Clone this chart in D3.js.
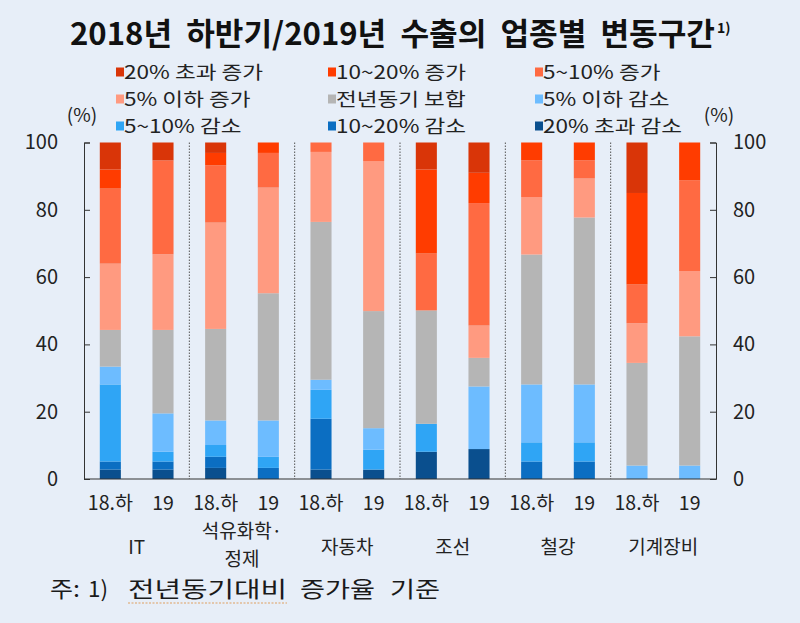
<!DOCTYPE html>
<html><head><meta charset="utf-8">
<script src="https://cdn.jsdelivr.net/npm/d3@7"></script>
<style>
html,body{margin:0;padding:0;background:#e7eef8;}
svg{display:block;}
text{font-family:"Noto Sans CJK KR","Noto Sans",sans-serif;fill:#222;white-space:pre;}
</style></head>
<body>
<svg id="chart" width="800" height="623"></svg>
<script>
// ---- data ----
const categories = ["IT", "석유화학·|정제", "자동차", "조선", "철강", "기계장비"];
const periods = ["18.하", "19"];
const seriesNames = ["20% 초과 감소", "10~20% 감소", "5~10% 감소", "5% 이하 감소", "전년동기 보합",
                     "5% 이하 증가", "5~10% 증가", "10~20% 증가", "20% 초과 증가"];
const seriesColors = ["#0a4f8e", "#0b6ec2", "#2fa5f5", "#6dbcff", "#b5b5b5",
                      "#ff9a80", "#ff6a42", "#ff3c00", "#d93508"];
// values per bar (bottom → top, same order as seriesNames)
const IT_18 = [2.8, 2.4, 22.9, 5.3, 10.9, 19.7, 22.3, 5.7, 8.0];
const IT_19 = [2.8, 2.4, 2.9, 11.4, 24.8, 22.5, 27.9, 0, 5.3];
const PETRO_18 = [3.3, 3.3, 3.5, 7.3, 27.2, 31.6, 17.0, 3.7, 3.1];
const PETRO_19 = [0, 3.3, 3.3, 10.8, 37.8, 31.4, 10.3, 3.1, 0];
const AUTO_18 = [2.8, 15.1, 8.6, 3.0, 46.9, 20.8, 2.8, 0, 0];
const AUTO_19 = [2.8, 0, 5.9, 6.4, 34.8, 44.6, 5.5, 0, 0];
const SHIP_18 = [8.1, 0, 8.3, 0, 33.7, 0, 16.9, 25.0, 8.0];
const SHIP_19 = [8.9, 0, 0, 18.6, 8.5, 9.6, 36.4, 9.0, 9.0];
const STEEL_18 = [0, 5.2, 5.7, 17.2, 38.6, 17.1, 10.9, 5.3, 0];
const STEEL_19 = [0, 5.2, 5.7, 17.2, 49.6, 11.6, 5.4, 5.3, 0];
const MACH_18 = [0, 0, 0, 4.0, 30.5, 11.8, 11.5, 27.2, 15.0];
const MACH_19 = [0, 0, 0, 4.0, 38.4, 19.4, 27.0, 11.2, 0];
const barValues = [[IT_18, IT_19], [PETRO_18, PETRO_19], [AUTO_18, AUTO_19],
                   [SHIP_18, SHIP_19], [STEEL_18, STEEL_19], [MACH_18, MACH_19]];
const yTicks = [0, 20, 40, 60, 80, 100];
const legendOrder = [8, 7, 6, 5, 4, 3, 2, 1, 0];
const titleText = "2018년  하반기/2019년  수출의  업종별  변동구간";
const footWords = ["주:", "1)", "전년동기대비", "증가율", "기준"];

// ---- layout ----
const svg = d3.select("#chart");
const plotL = 84, plotR = 716, plotT = 142.5, plotB = 479;

const x0 = d3.scaleBand().domain(categories).range([plotL, plotR]).padding(0);
const x1 = d3.scaleBand().domain(periods).range([0, x0.bandwidth()]).paddingInner(0.6).paddingOuter(0.3);
const y = d3.scaleLinear().domain([0, 100]).range([plotB, plotT]);
const color = d3.scaleOrdinal().domain(seriesNames).range(seriesColors);

// title
svg.append("text").attr("x", 70).attr("y", 45)
  .attr("textLength", 645).attr("lengthAdjust", "spacingAndGlyphs")
  .style("font-weight", "700").style("font-size", "31px").style("fill", "#111")
  .text(titleText);
svg.append("text").attr("x", 717).attr("y", 33)
  .style("font-weight", "700").style("font-size", "14px").style("fill", "#111").text("1)");

// bars
const flat = [];
categories.forEach((c, ci) => periods.forEach((p, pi) => {
  const vals = barValues[ci][pi];
  let acc = 0;
  vals.forEach((v, si) => {
    flat.push({cat: c, period: p, series: seriesNames[si], y0: acc, y1: acc + v});
    acc += v;
  });
}));
svg.append("g").selectAll("rect").data(flat.filter(d => d.y1 > d.y0)).join("rect")
  .attr("x", d => x0(d.cat) + x1(d.period))
  .attr("width", x1.bandwidth())
  .attr("y", d => y(d.y1))
  .attr("height", d => y(d.y0) - y(d.y1))
  .attr("fill", d => color(d.series));

// separators
svg.append("g").selectAll("line").data(categories.slice(1)).join("line")
  .attr("x1", d => x0(d)).attr("x2", d => x0(d))
  .attr("y1", y(100)).attr("y2", y(0))
  .attr("stroke", "#555").attr("stroke-width", 1).attr("stroke-dasharray", "1.5,1.5");

// axes
const axL = svg.append("g").attr("transform", `translate(${plotL},0)`)
  .call(d3.axisLeft(y).tickValues(yTicks).tickSize(-6).tickPadding(26));
const axR = svg.append("g").attr("transform", `translate(${plotR},0)`)
  .call(d3.axisRight(y).tickValues(yTicks).tickSize(-6).tickPadding(17));
[axL, axR].forEach(a => {
  a.selectAll("path,line").attr("stroke", "#333");
  a.selectAll("text").style("font-size", "20px").style("fill", "#222")
    .style("font-family", '"Noto Sans CJK KR",sans-serif');
});
svg.append("line").attr("x1", plotL).attr("x2", plotR).attr("y1", y(0)).attr("y2", y(0))
  .attr("stroke", "#333").attr("stroke-width", 1.2);

// (%) labels
svg.append("text").attr("x", 82).attr("y", 122).attr("text-anchor", "middle").style("font-size", "19px").text("(%)");
svg.append("text").attr("x", 719).attr("y", 122).attr("text-anchor", "middle").style("font-size", "19px").text("(%)");

// period labels
categories.forEach(c => periods.forEach(p => {
  svg.append("text").attr("x", x0(c) + x1(p) + x1.bandwidth() / 2).attr("y", 510)
    .attr("text-anchor", "middle").style("font-size", "19.5px").text(p);
}));
// category labels
categories.forEach(c => {
  const lines = c.split("|");
  const cx = x0(c) + x0.bandwidth() / 2;
  lines.forEach((l, i) => {
    const yy = lines.length === 1 ? 554 : 538 + i * 27.5;
    svg.append("text").attr("x", cx).attr("y", yy).attr("text-anchor", "middle")
      .style("font-size", "19px").text(l);
  });
});

// legend
const legCols = [116, 328, 535], legRows = [72, 99, 126];
legendOrder.forEach((si, i) => {
  const lx = legCols[i % 3], ly = legRows[Math.floor(i / 3)];
  svg.append("rect").attr("x", lx).attr("y", ly - 4.5).attr("width", 8).attr("height", 9)
    .attr("fill", seriesColors[si]);
  const t = svg.append("text").attr("x", lx + 8).attr("y", ly + 6.5).style("font-size", "18.5px")
    .text(seriesNames[si]);
  const w = t.node().getComputedTextLength();
  t.attr("textLength", w * 1.22).attr("lengthAdjust", "spacingAndGlyphs");
});

// footnote
const footX = [[50, 30], [88, 20], [128, 159], [300, 75], [390, 50]];
footWords.forEach((w, i) => {
  svg.append("text").attr("x", footX[i][0]).attr("y", 597)
    .attr("textLength", footX[i][1]).attr("lengthAdjust", "spacingAndGlyphs")
    .style("font-size", "22px").style("fill", "#1a1a1a").text(w);
});
svg.append("line").attr("x1", 128).attr("x2", 287).attr("y1", 603).attr("y2", 603)
  .attr("stroke", "#e0a060").attr("stroke-width", 1.2).attr("stroke-dasharray", "2,1.5");
</script>
</body></html>
